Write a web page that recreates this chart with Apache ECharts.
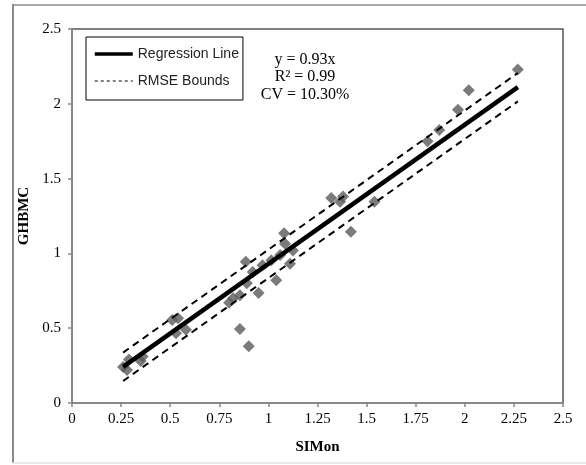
<!DOCTYPE html>
<html>
<head>
<meta charset="utf-8">
<script src="https://cdn.jsdelivr.net/npm/echarts@6/dist/echarts.min.js"></script>
<style>html,body{margin:0;padding:0;background:#fff;}#c{width:586px;height:465px;}</style>
</head>
<body>
<div id="c"></div>
<script>
// Observed points (SIMon, GHBMC)
const points = [
  [0.26,0.24],[0.28,0.22],[0.29,0.29],[0.35,0.28],[0.36,0.31],
  [0.51,0.555],[0.54,0.566],[0.53,0.466],[0.58,0.49],
  [0.80,0.67],[0.82,0.70],[0.855,0.72],[0.855,0.495],[0.90,0.38],
  [0.885,0.945],[0.89,0.80],[0.95,0.735],[0.92,0.875],[0.97,0.92],[1.015,0.955],[1.06,0.99],
  [1.04,0.82],[1.08,1.135],[1.085,1.065],[1.125,1.02],[1.11,0.93],
  [1.32,1.37],[1.365,1.345],[1.38,1.38],[1.42,1.145],[1.54,1.345],
  [1.81,1.75],[1.87,1.825],[1.965,1.96],[2.02,2.09],[2.27,2.23]
];
// Regression line y = 0.93x and RMSE bounds endpoints
const regLine = [[0.26,0.242],[2.27,2.111]];
const upperBound = [[0.26,0.337],[2.27,2.206]];
const lowerBound = [[0.26,0.147],[2.27,2.016]];
const xTicks = {min:0, max:2.5, interval:0.25};
const yTicks = {min:0, max:2.5, interval:0.5};
const annotation = ['y = 0.93x', 'R\u00b2 = 0.99', 'CV = 10.30%'];

const serif = '"Liberation Serif", "Times New Roman", serif';
const chart = echarts.init(document.getElementById('c'), null, {renderer:'canvas'});
chart.setOption({
  animation: false,
  backgroundColor: '#fff',
  grid: {left:72, right:23, top:29, bottom:62, show:true, borderColor:'#555', borderWidth:1.5},
  legend: {
    left: 86, top: 37, orient: 'vertical',
    backgroundColor: '#fff',
    borderColor: '#000', borderWidth: 1,
    padding: [10, 4, 12, 7],
    itemGap: 13, itemWidth: 38, itemHeight: 14,
    itemStyle: {opacity: 0},
    textStyle: {fontFamily:'"Liberation Sans Narrow", "Liberation Sans", sans-serif', fontSize:14, color:'#222'},
    data: [
      {name:'Regression Line', lineStyle:{width:3.5, color:'#000'}},
      {name:'RMSE Bounds', lineStyle:{width:1.2, color:'#000', type:[3,3]}}
    ]
  },
  xAxis: {
    type:'value', min:xTicks.min, max:xTicks.max, interval:xTicks.interval,
    name:'SIMon', nameLocation:'middle', nameGap:37,
    nameTextStyle:{fontFamily:serif, fontSize:15, fontWeight:'bold', color:'#000'},
    axisLine:{show:true, onZero:false, lineStyle:{color:'#888', width:2}},
    axisTick:{show:true, length:4, lineStyle:{color:'#888', width:1.5}},
    axisLabel:{fontFamily:serif, fontSize:15, color:'#000', margin:9},
    splitLine:{show:false}
  },
  yAxis: {
    type:'value', min:yTicks.min, max:yTicks.max, interval:yTicks.interval,
    name:'GHBMC', nameLocation:'middle', nameGap:34, nameRotate:90,
    nameTextStyle:{fontFamily:serif, fontSize:15, fontWeight:'bold', color:'#000'},
    axisLine:{show:true, onZero:false, lineStyle:{color:'#888', width:2}},
    axisTick:{show:true, length:4, lineStyle:{color:'#888', width:1.5}},
    axisLabel:{fontFamily:serif, fontSize:15, color:'#000', margin:11},
    splitLine:{show:false}
  },
  series: [
    {type:'scatter', name:'Data', data:points, symbol:'diamond', symbolSize:12,
     itemStyle:{color:'#5a5a5a'}, z:2},
    {type:'line', name:'Regression Line', data:regLine, symbol:'none',
     lineStyle:{color:'#000', width:4.5}, itemStyle:{color:'#000'}, z:4},
    {type:'line', name:'RMSE Bounds', data:upperBound, symbol:'none',
     lineStyle:{color:'#000', width:2, type:[7,5]}, itemStyle:{color:'#000'}, z:3},
    {type:'line', name:'RMSE Bounds', data:lowerBound, symbol:'none',
     lineStyle:{color:'#000', width:2, type:[7,5]}, itemStyle:{color:'#000'}, z:3}
  ],
  graphic: [
    {type:'line', shape:{x1:13, y1:4, x2:13, y2:463}, style:{stroke:'#8c8c8c', lineWidth:2}, silent:true},
    {type:'line', shape:{x1:12, y1:5, x2:586, y2:5}, style:{stroke:'#8c8c8c', lineWidth:1.5}, silent:true},
    {type:'line', shape:{x1:12, y1:463, x2:586, y2:463}, style:{stroke:'#e2e2e2', lineWidth:1.5}, silent:true},
    {type:'text', x:305, y:60, style:{text:annotation[0], x:0, y:0, align:'center', verticalAlign:'middle', font:'16px ' + serif, fill:'#000'}},
    {type:'text', x:305, y:77, style:{text:annotation[1], x:0, y:0, align:'center', verticalAlign:'middle', font:'16px ' + serif, fill:'#000'}},
    {type:'text', x:305, y:95, style:{text:annotation[2], x:0, y:0, align:'center', verticalAlign:'middle', font:'16px ' + serif, fill:'#000'}}
  ]
});
</script>
</body>
</html>
